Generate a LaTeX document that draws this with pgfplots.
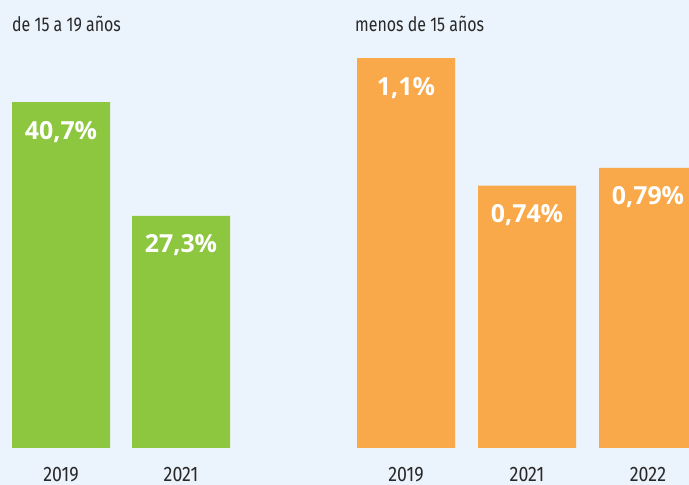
\documentclass[border=0pt]{standalone}
\usepackage{pgfplots}
\pgfplotsset{compat=1.18}
\usepackage{fontspec}
\setmainfont{Fira Sans}[FakeStretch=0.8]
\newfontfamily\valfont{Open Sans}
\newfontfamily\yearfont{Fira Sans}[FakeStretch=0.85]
\definecolor{bg}{RGB}{235,243,252}
\definecolor{cgreen}{RGB}{141,198,63}
\definecolor{corange}{RGB}{249,169,74}
\definecolor{txt}{RGB}{40,40,40}
\pgfplotsset{
  common/.style={
    scale only axis, anchor=south west, height=408bp,
    ymin=0, axis line style={draw=none}, major tick length=0pt,
    ytick=\empty, xtick=data, ybar, bar width=98bp,
    xticklabel style={font=\yearfont\fontsize{21}{21}\selectfont, text=txt, anchor=base, yshift=-33bp},
    point meta=y,
    nodes near coords={\pgfmathprintnumber[assume math mode=true, use comma, fixed, precision=2]{\pgfplotspointmeta}\%},
    nodes near coords style={anchor=base, yshift=-37bp, text=white, font=\valfont\bfseries\fontsize{25}{25}\selectfont},
  }
}
\begin{document}
\begin{tikzpicture}
\clip (0,0) rectangle (689bp,485bp);
\fill[bg] (0,0) rectangle (689bp,485bp);
\node[anchor=base west, inner sep=0, text=txt, font=\fontsize{20}{20}\selectfont] at (12bp,453bp) {de 15 a 19 años};
\node[anchor=base west, inner sep=0, text=txt, font=\fontsize{20}{20}\selectfont] at (355bp,453bp) {menos de 15 años};
\begin{axis}[common, at={(1bp,37bp)}, width=240bp, xmin=-0.5, xmax=1.5, ymax=48,
  xticklabels={2019,2021}]
\addplot[fill=cgreen, draw=none] coordinates {(0,40.7) (1,27.3)};
\end{axis}
\begin{axis}[common, at={(345.5bp,37bp)}, width=363bp, xmin=-0.5, xmax=2.5, ymax=1.151,
  xticklabels={2019,2021,2022}]
\addplot[fill=corange, draw=none] coordinates {(0,1.1) (1,0.74) (2,0.79)};
\end{axis}
\end{tikzpicture}
\end{document}
